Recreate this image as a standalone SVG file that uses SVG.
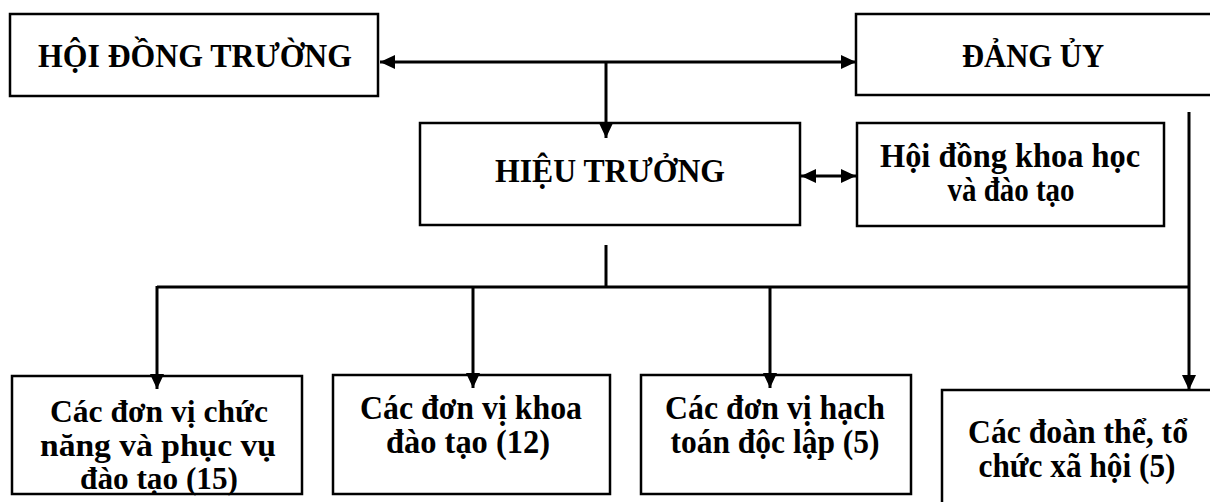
<svg xmlns="http://www.w3.org/2000/svg" width="1210" height="502" viewBox="0 0 1210 502">
<style>
.box{fill:#fff;stroke:#000;stroke-width:2.5}
.t{font-family:"Liberation Serif","Times New Roman",serif;font-weight:bold;font-size:33px;fill:#000;text-anchor:middle}
.s{font-size:31px}
.c{fill:none;stroke:#000;stroke-width:3}
</style>
<defs>
<marker id="ah" markerUnits="userSpaceOnUse" markerWidth="16" markerHeight="14" refX="15" refY="7" orient="auto-start-reverse">
<path d="M0,0 L15,7 L0,14 Z" fill="#000"/>
</marker>
</defs>
<g id="n-hdt"><rect class="box" x="10" y="14" width="368" height="82"/><text class="t" x="195" y="67" textLength="314" lengthAdjust="spacingAndGlyphs">HỘI ĐỒNG TRƯỜNG</text></g>
<g id="n-dangu"><rect class="box" x="856" y="14" width="360" height="81"/><text class="t" x="1033" y="67" textLength="142" lengthAdjust="spacingAndGlyphs">ĐẢNG ỦY</text></g>
<g id="n-ht"><rect class="box" x="420" y="123" width="380" height="102"/><text class="t" x="610" y="182" textLength="230" lengthAdjust="spacingAndGlyphs">HIỆU TRƯỞNG</text></g>
<g id="n-hdkh"><rect class="box" x="857" y="123" width="307" height="103"/><text class="t" x="1010" y="167" textLength="260" lengthAdjust="spacingAndGlyphs">Hội đồng khoa học</text><text class="t" x="1011" y="201" textLength="127" lengthAdjust="spacingAndGlyphs">và đào tạo</text></g>
<g id="n-cn"><rect class="box" x="12" y="376" width="290" height="118"/><text class="t s" x="159" y="422" textLength="218" lengthAdjust="spacingAndGlyphs">Các đơn vị chức</text><text class="t s" x="158" y="456" textLength="236" lengthAdjust="spacingAndGlyphs">năng và phục vụ</text><text class="t s" x="159" y="489" textLength="158" lengthAdjust="spacingAndGlyphs">đào tạo (15)</text></g>
<g id="n-khoa"><rect class="box" x="333" y="375" width="277" height="119"/><text class="t" x="471" y="419" textLength="222" lengthAdjust="spacingAndGlyphs">Các đơn vị khoa</text><text class="t" x="468" y="453" textLength="164" lengthAdjust="spacingAndGlyphs">đào tạo (12)</text></g>
<g id="n-hach"><rect class="box" x="641" y="375" width="270" height="119"/><text class="t" x="775" y="419" textLength="220" lengthAdjust="spacingAndGlyphs">Các đơn vị hạch</text><text class="t" x="775" y="453" textLength="209" lengthAdjust="spacingAndGlyphs">toán độc lập (5)</text></g>
<g id="n-doan"><rect class="box" x="942" y="390" width="280" height="130"/><text class="t" x="1078" y="443" textLength="220" lengthAdjust="spacingAndGlyphs">Các đoàn thể, tổ</text><text class="t" x="1077" y="477" textLength="197" lengthAdjust="spacingAndGlyphs">chức xã hội (5)</text></g>
<g id="connectors">
<line class="c" x1="380" y1="62" x2="856" y2="62" marker-start="url(#ah)" marker-end="url(#ah)"/>
<line class="c" x1="606" y1="62" x2="606" y2="138" marker-end="url(#ah)"/>
<line class="c" x1="801" y1="176" x2="856" y2="176" marker-start="url(#ah)" marker-end="url(#ah)"/>
<line class="c" x1="606" y1="245" x2="606" y2="287"/>
<line class="c" x1="157" y1="287" x2="1189" y2="287"/>
<line class="c" x1="1189" y1="112" x2="1189" y2="390" marker-end="url(#ah)"/>
<line class="c" x1="157" y1="286" x2="157" y2="389" marker-end="url(#ah)"/>
<line class="c" x1="473" y1="286" x2="473" y2="388" marker-end="url(#ah)"/>
<line class="c" x1="770" y1="286" x2="770" y2="388" marker-end="url(#ah)"/>
</g>
</svg>
